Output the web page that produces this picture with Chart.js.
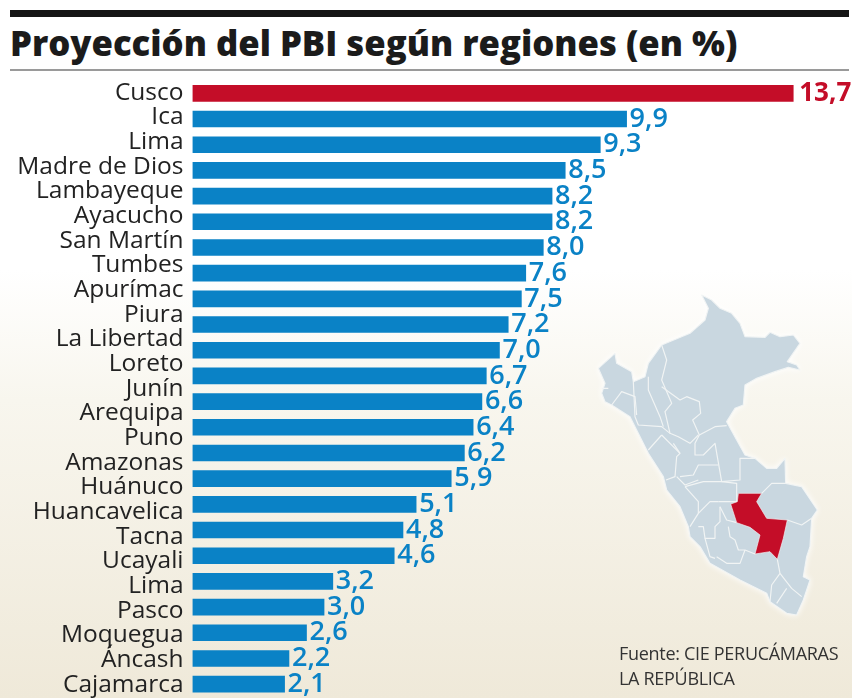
<!DOCTYPE html>
<html lang="es">
<head>
<meta charset="utf-8">
<title>Proyección del PBI según regiones</title>
<script src="https://cdn.jsdelivr.net/npm/chart.js@4"></script>
<style>
  html, body { margin: 0; padding: 0; }
  body {
    position: relative; width: 852px; height: 698px; overflow: hidden;
    background: linear-gradient(to bottom, #fff 0, #fff 270px, #f8f6ee 400px, #efe9d9 698px);
  }
  #barTop { position: absolute; left: 10px; top: 10px; width: 839px; height: 7px; background: #151515; }
  #ruleTop { position: absolute; left: 10px; top: 69px; width: 839px; height: 2px; background: #9a9a9a; }
  h1 {
    position: absolute; left: 10px; top: 19px; margin: 0; white-space: nowrap;
    font: 800 34.7px "Open Sans", sans-serif; color: #1b1b1b; letter-spacing: 0;
  }
  #grafico { position: absolute; left: 0; top: 0; }
  #mapa { position: absolute; left: 580px; top: 280px; filter: drop-shadow(0 0 3px #fff); }
  #fuente {
    position: absolute; left: 619px; top: 641px;
    font: 18px/25px "Open Sans", sans-serif; color: #333; letter-spacing: -0.3px;
  }
</style>
</head>
<body>
<div id="barTop"></div>
<h1>Proyección del PBI según regiones (en %)</h1>
<div id="ruleTop"></div>
<canvas id="grafico" width="852" height="698"></canvas>
<svg id="mapa" width="272" height="418" viewBox="0 0 816 1254">
  <g fill="#c9d7e0" stroke="#f1f4f4" stroke-width="3.5" stroke-linejoin="round">
    <path d="M365 45L395 60 420 85 455 100 480 130 495 170 555 172 570 157 600 170 640 165 660 190 622 245 650 255 660 270 625 262 585 275 530 295 495 315 490 375 465 385 440 425 470 480 495 525 525 535 560 565 590 565 615 535 617 610 665 620 712 690 695 715 690 800 680 830 670 890 690 900 670 960 650 1005 620 1000 570 965 560 940 480 900 390 850 360 800 330 770 325 740 300 680 260 630 250 590 205 520 150 410 95 375 75 365 65 340 75 310 55 265 105 220 110 250 155 275 160 305 195 290 205 250 245 195 330 160 375 120 385 85Z"/>
  </g>
  <g fill="none" stroke="#f1f4f4" stroke-width="3.5" stroke-linejoin="round">
    <path d="M245 195L260 240 245 300 275 370 255 395 270 460 295 470 330 490 355 465"/>
    <path d="M245 320L300 360 320 350 358 365 362 400 338 420 358 465 345 490 345 525 370 525 405 490 425 605"/>
    <path d="M358 465L405 440 440 437"/>
    <path d="M160 305L165 410 175 435 245 440 270 460"/>
    <path d="M205 290L205 330 240 410 250 440"/>
    <path d="M245 465L205 510M245 465L300 520 290 530 285 590 258 600"/>
    <path d="M280 490L300 520"/>
    <path d="M290 590L315 615 355 600M300 590L340 585 355 555 415 555"/>
    <path d="M315 620L355 665 355 700 330 740"/>
    <path d="M315 620L370 605 425 605 470 610 470 665 415 665"/>
    <path d="M355 700L390 665 415 665M355 740L370 740 375 775 405 775 405 740 420 725 420 680"/>
    <path d="M375 775L390 830 405 835"/>
    <path d="M425 605L480 600 480 535 525 535"/>
    <path d="M545 640L575 610 617 610"/>
    <path d="M622 720L665 735 695 715"/>
    <path d="M592 838L600 880 575 915 570 965M600 880L635 925 665 950M590 970L620 925"/>
    <path d="M445 740L450 770 465 780 475 810 495 810 480 850 440 850 410 830M495 810L525 822"/>
    <path d="M420 680L440 720 470 728"/>
    <path d="M95 375L125 335 165 350 170 405M65 325L85 325"/>
  </g>
  <path fill="#c40d28" stroke="#f1f4f4" stroke-width="2" stroke-linejoin="round" d="M475 640L545 640 530 665 560 715 622 720 610 775 592 838 570 815 525 822 540 765 510 742 470 728 452 672 472 665Z"/>
</svg>
<div id="fuente">Fuente: CIE PERUCÁMARAS<br>LA REPÚBLICA</div>
<script>
// Etiquetas de regiones (25 en el original, pero solo 24 barras)
const regiones = ['Cusco', 'Ica', 'Lima', 'Madre de Dios', 'Lambayeque', 'Ayacucho', 'San Martín', 'Tumbes',
    'Apurímac', 'Piura', 'La Libertad', 'Loreto', 'Junín', 'Arequipa', 'Puno', 'Amazonas', 'Huánuco',
    'Huancavelica', 'Tacna', 'Ucayali', 'Lima', 'Pasco', 'Moquegua', 'Áncash', 'Cajamarca'];

const puestos = ['1', '2', '3', '4', '5', '6', '7', '8', '9', '10', '11', '12', '13', '14', '15', '16',
    '17', '18', '19', '20', '21', '22', '23', '24'];

const valores = [13.7, 9.9, 9.3, 8.5, 8.2, 8.2, 8.0, 7.6, 7.5, 7.2, 7.0, 6.7, 6.6, 6.4, 6.2, 5.9, 5.1, 4.8,
    4.6, 3.2, 3.0, 2.6, 2.2, 2.1];

const ROJO = '#c40d28';
const AZUL = '#0a82c6';

// Valor al final de cada barra, con coma decimal
const etiquetasValor = {
    id: 'etiquetasValor',
    afterDatasetsDraw(chart) {
        const ctx = chart.ctx;
        const meta = chart.getDatasetMeta(0);
        ctx.save();
        ctx.textAlign = 'left';
        ctx.textBaseline = 'middle';
        meta.data.forEach((bar, i) => {
            ctx.fillStyle = i === 0 ? ROJO : AZUL;
            ctx.font = (i === 0 ? '700 26px' : '600 27px') + ' "Open Sans", sans-serif';
            ctx.fillText(valores[i].toFixed(1).replace('.', ','), bar.x + (i === 0 ? 6 : 3), bar.y);
        });
        ctx.restore();
    }
};

new Chart(document.getElementById('grafico').getContext('2d'), {
    type: 'bar',
    data: {
        labels: puestos,
        datasets: [{
            data: valores,
            yAxisID: 'y',
            backgroundColor: valores.map((v, i) => i === 0 ? ROJO : AZUL),
            barThickness: 16
        }]
    },
    options: {
        indexAxis: 'y',
        responsive: false,
        animation: false,
        layout: { autoPadding: false, padding: { top: 80.5, bottom: 1 } },
        plugins: { legend: { display: false }, tooltip: { enabled: false } },
        scales: {
            x: { display: false, min: 0, max: 15.04 },
            y: { display: false, grid: { display: false } },
            yRegiones: {
                type: 'category',
                labels: regiones,
                position: 'left',
                offset: true,
                grid: { display: false, drawTicks: false },
                border: { display: false },
                ticks: {
                    autoSkip: false,
                    padding: 9,
                    color: '#222',
                    font: { family: '"Open Sans", sans-serif', size: 24.5 }
                },
                // la altura del texto no debe recortar el área del gráfico
                afterFit(scale) {
                    scale.width = 192.5;
                    scale.paddingTop = 0;
                    scale.paddingBottom = 0;
                }
            }
        }
    },
    plugins: [etiquetasValor]
});
</script>
</body>
</html>
